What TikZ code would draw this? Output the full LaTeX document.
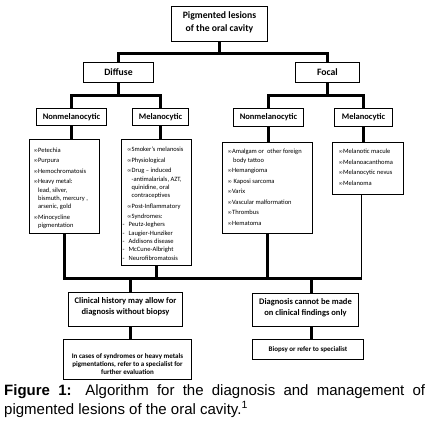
\documentclass[tikz,border=0pt]{standalone}
\usepackage{fontspec}
\setmainfont{Carlito}
\newfontfamily\capfont{Liberation Sans}
\newfontfamily\symfont{DejaVu Sans}
\usetikzlibrary{calc}
\newcommand\bl{{\symfont\fontsize{5.3}{8}\selectfont ∞}}
\newcommand\ind{\hphantom{\bl}}
\newcommand\ii{\hspace*{4.5pt}\bl}
\newcommand\jj{\hspace*{4.5pt}\ind}
\tikzset{
  bx/.style={draw=black, line width=1pt, inner sep=0pt, outer sep=0pt, align=center},
  conn/.style={line width=3pt},
  thinconn/.style={line width=1pt},
  lst/.style={anchor=north west, inner sep=0pt, align=left, font=\fontsize{6.5}{8.3}\selectfont},
  tone/.style={font=\bfseries\fontsize{9.7}{13}\selectfont},
  ttwo/.style={font=\bfseries\fontsize{8.5}{11}\selectfont},
  tthree/.style={font=\bfseries\fontsize{7}{8.2}\selectfont},
  capnode/.style={anchor=north west, inner sep=0pt, align=left, font=\capfont\fontsize{15}{17}\selectfont}
}
\begin{document}
\begin{tikzpicture}[x=1pt, y=-1pt]
\fill[white] (0,0) rectangle (430,420);
\useasboundingbox (0,0) rectangle (430,420);

\node[bx, minimum width=96pt, minimum height=35pt] (top) at (219.5,24) {};
\node[tone, align=center, inner sep=0pt] (topT) at (219.5,22.5) {Pigmented lesions\\of the oral cavity};
\node[bx, tone, minimum width=70pt, minimum height=20pt] (diffuse) at (118.5,72.5) {Diffuse};
\node[bx, tone, minimum width=64pt, minimum height=20pt] (focal) at (327.5,72.5) {Focal};
\node[bx, ttwo, minimum width=70pt, minimum height=17pt] (nml) at (71.5,117) {Nonmelanocytic};
\node[bx, ttwo, minimum width=56pt, minimum height=17pt] (mll) at (160.5,117) {Melanocytic};
\node[bx, ttwo, minimum width=70pt, minimum height=18pt] (nmr) at (268.5,117.5) {Nonmelanocytic};
\node[bx, ttwo, minimum width=58pt, minimum height=18pt] (mlr) at (363.5,117.5) {Melanocytic};

\node[bx, minimum width=70pt, minimum height=94pt] (listA) at (64.5,186.5) {};
\node[bx, minimum width=70pt, minimum height=126pt] (listB) at (156.5,202.5) {};
\node[bx, minimum width=90pt, minimum height=91pt] (listC) at (267.5,188) {};
\node[bx, minimum width=71pt, minimum height=52pt] (listD) at (368,168.5) {};

\node[lst] (tA) at ($(listA.north west)+(4,8)$) {\bl Petechia\\[2.2pt]
\bl Purpura\\[2.2pt]
\bl Hemochromatosis\\[2.2pt]
\bl Heavy metal:\\
\ind lead, silver,\\
\ind bismuth, mercury ,\\
\ind arsenic, gold\\[2.2pt]
\bl Minocycline\\
\ind pigmentation};

\node[lst] (tB) at ($(listB.north west)+(1,7.5)$) {\ii Smoker’s melanosis\\[2.2pt]
\ii Physiological\\[2.2pt]
\ii Drug – induced\\
\jj -antimalarials, AZT,\\
\jj quinidine, oral\\
\jj contraceptives\\[2.2pt]
\ii Post-Inflammatory\\[2.2pt]
\ii Syndromes:\\
-\hspace{4pt}Peutz-Jeghers\\
-\hspace{4pt}Laugier-Hunziker\\
-\hspace{4pt}Addisons disease\\
-\hspace{4pt}McCune-Albright\\
-\hspace{4pt}Neurofibromatosis};

\node[lst] (tC) at ($(listC.north west)+(5,6.5)$) {\bl Amalgam or \ other foreign\\
\ind\,body tattoo\\[2.2pt]
\bl Hemangioma\\[2.2pt]
\bl\ Kaposi sarcoma\\[2.2pt]
\bl Varix\\[2.2pt]
\bl Vascular malformation\\[2.2pt]
\bl Thrombus\\[2.2pt]
\bl Hematoma};

\node[lst] (tD) at ($(listD.north west)+(6,6.5)$) {\bl Melanotic macule\\[2.2pt]
\bl Melanoacanthoma\\[2.2pt]
\bl Melanocytic nevus\\[2.2pt]
\bl Melanoma};

\node[bx, minimum width=114pt, minimum height=34pt] (clin) at (125.5,309.5) {};
\node[ttwo, align=center, inner sep=0pt] (clinT) at (125.5,307) {Clinical history may allow for\\diagnosis without biopsy};
\node[bx, minimum width=106pt, minimum height=33pt] (diag) at (305.5,310) {};
\node[ttwo, align=center, inner sep=0pt] (diagT) at (305.5,307.5) {Diagnosis cannot be made\\on clinical findings only};
\node[bx, minimum width=128pt, minimum height=40pt] (incase) at (127.5,359.5) {};
\node[tthree, align=center, inner sep=0pt] (incaseT) at (127.5,364) {In cases of syndromes or heavy metals\\pigmentations, refer to a specialist for\\further evaluation};
\node[bx, tthree, minimum width=111pt, minimum height=20pt] (biopsy) at (308,349.5) {Biopsy or refer to specialist};

\coordinate (h1) at (0,53.5);
\coordinate (h2) at (0,95.5);
\coordinate (h3) at (0,278.5);

\draw[conn] (top.south) -- (top.south |- h1);
\draw[conn] (diffuse.north) |- (h1 -| focal.north) -- (focal.north);
\draw[conn] (diffuse.south) -- (diffuse.south |- h2);
\draw[conn] (nml.north) |- (h2 -| mll.north) -- (mll.north);
\draw[conn] (focal.south) -- (focal.south |- h2);
\draw[conn] (nmr.north) |- (h2 -| mlr.north) -- (mlr.north);
\draw[conn] (nml.south) -- (nml.south |- listA.north);
\draw[conn] (mll.south) -- (mll.south |- listB.north);
\draw[conn] (nmr.south) -- (nmr.south |- listC.north);
\draw[conn] (mlr.south) -- (mlr.south |- listD.north);
\coordinate (dl) at ($(listD.south)+(-6.5,0)$);
\draw[conn] (listA.south) |- (h3 -| dl);
\draw[thinconn] (dl) -- (h3 -| dl);
\draw[conn] (listB.south) -- (listB.south |- h3);
\draw[conn] (listC.south) -- (listC.south |- h3);
\coordinate (cl) at ($(clin.north)+(5,0)$);
\coordinate (dg) at ($(diag.north)+(6,0)$);
\draw[conn] (h3 -| cl) -- (cl);
\draw[conn] (h3 -| dg) -- (dg);
\draw[conn] (clin.south -| cl) -- (incase.north -| cl);
\draw[conn] (diag.south -| dg) -- (biopsy.north -| dg);

\node[capnode] (cap) at (4,384) {\makebox[421pt][s]{\textbf{Figure 1:} Algorithm for the diagnosis and management of}\\[2pt]
pigmented lesions of the oral cavity.\textsuperscript{1}};
\end{tikzpicture}
\end{document}
